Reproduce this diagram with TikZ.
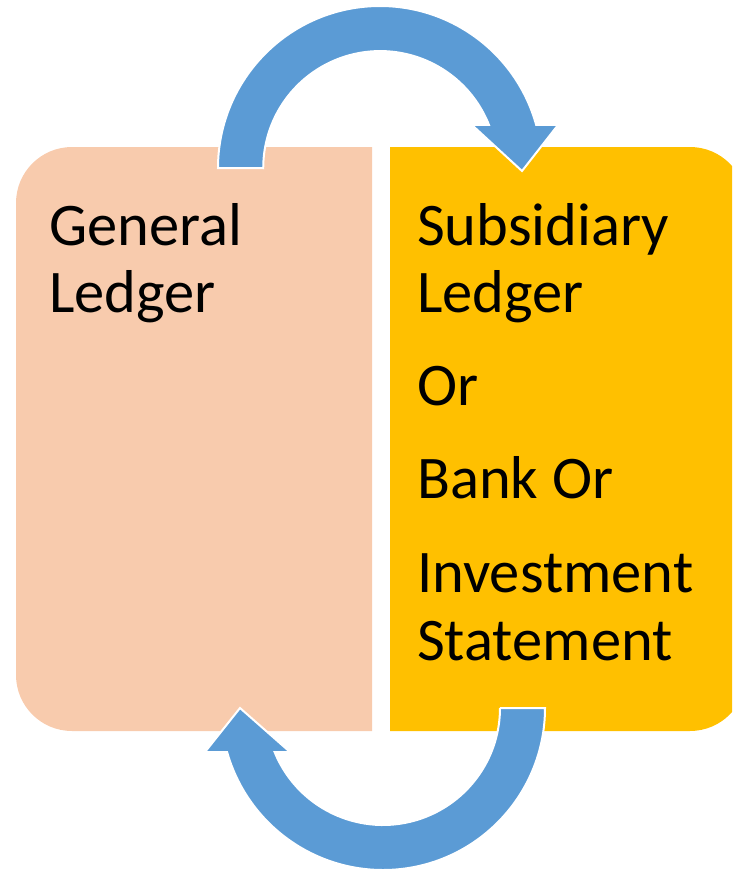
\documentclass[tikz,border=0pt]{standalone}
\usepackage{fontspec}
\setmainfont{Carlito}
\definecolor{peach}{HTML}{F8CBAD}
\definecolor{gold}{HTML}{FFC000}
\definecolor{cycleblue}{HTML}{5B9BD5}
\begin{document}
\begin{tikzpicture}[x=1pt,y=1pt,
  panelleft/.style={fill=peach},
  panelright/.style={fill=gold},
  looparrow/.style={fill=cycleblue,draw=white,line width=2pt,line join=miter},
  lbl/.style={anchor=base west,inner sep=0pt,font=\fontsize{60.5}{67}\selectfont,text=black}]
\useasboundingbox (0,0) rectangle (732,-872);
\clip (0,0) rectangle (732,-872);

% left panel, rounded on its outer side
\path[panelleft] (372,-147) -- (72,-147)
  arc[start angle=90,end angle=180,radius=56pt] -- (16,-675)
  arc[start angle=180,end angle=270,radius=56pt] -- (372,-731) -- cycle;

% right panel, rounded on its outer side
\path[panelright] (390,-147) -- (690,-147)
  arc[start angle=90,end angle=0,radius=56pt] -- (746,-675)
  arc[start angle=0,end angle=-90,radius=56pt] -- (390,-731) -- cycle;

% upper curved arrow: left panel -> right panel
\path[looparrow] (263,-168) -- (218,-168)
  arc[start angle=180,end angle=15.4,radius=162pt]
  -- (558,-125) -- (522,-171) -- (472,-125) -- (489,-125)
  arc[start angle=21.6,end angle=180,radius=117pt] -- cycle;

% lower curved arrow: right panel -> left panel
\path[looparrow] (500,-708) -- (545,-708)
  arc[start angle=0,end angle=-164.2,radius=162pt]
  -- (205,-752) -- (240,-708) -- (290,-752) -- (274.6,-752)
  arc[start angle=-157.9,end angle=0,radius=117pt] -- cycle;

% labels
\node[lbl] (gen1) at (49,-245) {General};
\node[lbl] (gen2) at (49,-312) {Ledger};

\node[lbl] (sub1) at (417,-245) {Subsidiary};
\node[lbl] (sub2) at (417,-312) {Ledger};
\node[lbl] (or1)  at (417,-405) {Or};
\node[lbl] (bank) at (417,-498) {Bank Or};
\node[lbl] (inv1) at (417,-592) {Investment};
\node[lbl] (inv2) at (417,-660) {Statement};
\end{tikzpicture}
\end{document}
